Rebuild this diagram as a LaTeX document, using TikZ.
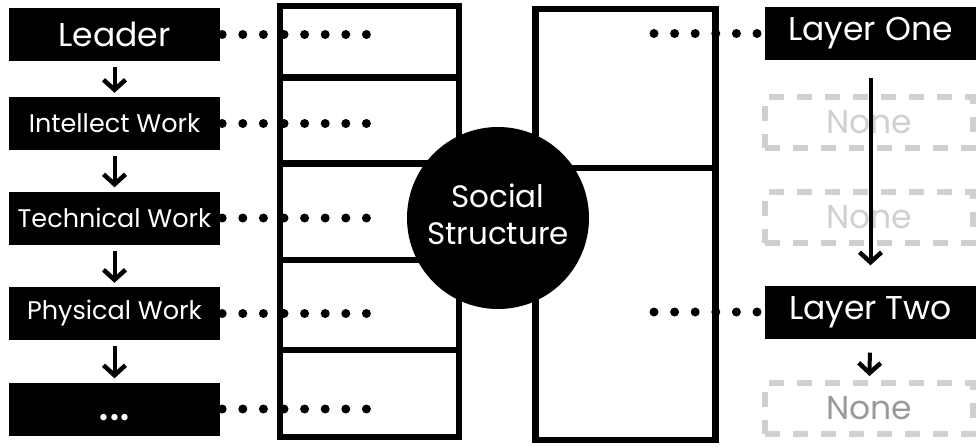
\documentclass[tikz,border=0pt]{standalone}
\usepackage{fontspec}
\setmainfont{Poppins}
\usetikzlibrary{arrows.meta}
\definecolor{nonegray}{HTML}{D0D0D0}

\begin{document}
\begin{tikzpicture}[x=1pt, y=-1pt,
    darkbox/.style={fill=black, text=white, minimum width=211pt,
        minimum height=53pt, inner sep=0pt},
    nonebox/.style={draw=nonegray, line width=6pt, dash pattern=on 15pt off 13pt,
        minimum width=208pt, minimum height=51pt, inner sep=0pt,
        font=\fontsize{33}{36}\selectfont},
    dotline/.style={line width=9pt, line cap=round, dash pattern=on 0pt off 20.6pt},
    downarrow/.style={line width=4pt,
        -{Straight Barb[length=10pt, width=22pt, line width=4.5pt]}},
    column/.style={line width=6.5pt}]
    \useasboundingbox (0,0) rectangle (980,447);

    % the two columns
    \draw[column] (280,6) rectangle (459,437);
    \foreach \y in {77.5, 163.5, 260, 350}
        \draw[column] (280,\y) -- (459,\y);
    \draw[column] (535.5,9) rectangle (715.5,440);
    \draw[column] (535.5,168) -- (715.5,168);

    \node[circle, fill=black, text=white, minimum size=182pt, inner sep=0pt,
        align=center, font=\fontsize{31}{37}\selectfont]
        (social) at (498, 218) {Social\\Structure\rule[-8pt]{0pt}{8pt}};

    % left chain
    \node[darkbox, font=\fontsize{33}{36}\selectfont]
        (leader) at (114.5, 34.5) {Leader};
    \node[darkbox, font=\fontsize{25.5}{30}\selectfont]
        (intellect) at (114.5, 123.5) {Intellect Work};
    \node[darkbox, font=\fontsize{25.5}{30}\selectfont]
        (technical) at (114.5, 218) {Technical Work};
    \node[darkbox, font=\fontsize{25.5}{30}\selectfont]
        (physical) at (114.5, 313.5) {Physical Work};
    \node[darkbox, font=\fontsize{52}{54}\selectfont, text height=0pt, text depth=0pt]
        (more) at (114.5, 409) {\raisebox{-11.5pt}{...}};

    \foreach \a/\b in {leader/intellect, intellect/technical,
            technical/physical, physical/more}
        \draw[downarrow, shorten <=6pt, shorten >=4pt] (\a) -- (\b);
    \foreach \n in {leader, intellect, technical, physical, more}
        \draw[dotline] ([xshift=2pt]\n.east) -- ++(146,0);

    % right chain
    \node[darkbox, font=\fontsize{33}{36}\selectfont]
        (one) at (870.5, 33.5) {Layer One};
    \node[nonebox, text=nonegray] (none1) at (869, 122.5) {None};
    \node[nonebox, text=nonegray] (none2) at (869, 217.5) {None};
    \node[darkbox, font=\fontsize{33}{36}\selectfont]
        (two) at (870.5, 312) {Layer Two};
    \node[nonebox, text=black!40] (none3) at (869, 408.5) {None};

    \coordinate (onedots) at (654, 33.5);
    \coordinate (twodots) at (654, 312);
    \draw[dotline] (onedots) -- (one.west);
    \draw[dotline] (twodots) -- (two.west);

    \draw[downarrow, shorten <=18pt, shorten >=20pt] (one) -- (two);
    \draw[downarrow, shorten <=14pt, shorten >=4pt] (two) -- (none3);
\end{tikzpicture}
\end{document}
